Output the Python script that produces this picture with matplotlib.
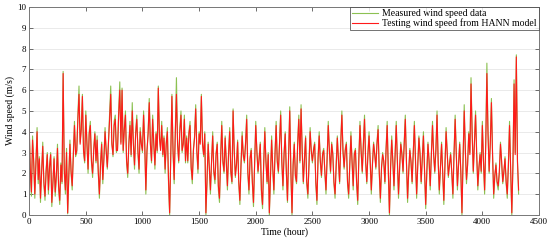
#wind speed: measured vs HANN test output
import matplotlib.pyplot as plt
import numpy as np

plt.rcParams['font.family'] = ['Liberation Serif', 'DejaVu Serif']

hours = np.arange(0, 4321, 10)

measured = [
    4.5, 2.0, 0.9, 3.8, 2.5, 0.8, 2.6, 4.2, 1.5, 2.8, 0.6, 2.0, 3.5, 1.4, 0.7, 2.2, 3.0, 1.0, 2.4, 3.0,
    0.4, 1.5, 2.8, 0.9, 1.8, 3.4, 1.2, 0.5, 2.5, 1.5, 6.9, 2.0, 1.0, 3.2, 0.05, 1.8, 3.6, 2.0, 1.2, 3.0,
    4.5, 2.8, 3.0, 4.8, 6.2, 3.5, 4.2, 5.8, 3.0, 2.5, 5.0, 3.5, 2.0, 4.0, 4.5, 2.5, 1.8, 3.2, 4.0, 2.5,
    3.8, 2.0, 0.8, 2.5, 3.5, 1.5, 2.8, 4.2, 3.0, 2.2, 3.5, 4.8, 6.2, 3.5, 2.8, 4.5, 4.8, 3.0, 3.2, 5.0,
    6.4, 3.5, 6.1, 3.0, 4.2, 5.0, 2.5, 1.8, 3.5, 4.5, 2.8, 5.4, 3.5, 2.2, 4.0, 4.8, 3.0, 2.0, 4.2, 3.5,
    3.0, 5.0, 3.5, 1.0, 3.0, 4.0, 5.6, 3.5, 2.5, 4.8, 3.5, 2.2, 4.0, 3.0, 6.2, 3.8, 3.2, 4.5, 2.8, 3.8,
    2.0, 3.5, 4.2, 1.5, 0.0, 2.8, 5.8, 3.0, 1.5, 4.0, 6.6, 3.5, 2.5, 4.2, 5.0, 3.0, 3.5, 4.8, 2.5, 3.8,
    2.5, 4.0, 4.5, 2.2, 1.5, 3.2, 3.8, 5.3, 3.0, 2.0, 4.0, 3.5, 5.8, 3.5, 2.8, 4.0, 0.0, 1.5, 3.5, 2.2,
    1.0, 2.5, 4.0, 2.0, 1.5, 3.0, 3.5, 1.2, 0.6, 2.8, 4.5, 2.5, 2.0, 3.8, 2.5, 1.2, 3.0, 4.2, 2.0, 1.5,
    5.1, 3.0, 1.8, 2.5, 3.6, 1.5, 0.5, 2.5, 4.0, 2.8, 2.5, 3.5, 4.8, 2.0, 1.0, 2.8, 3.2, 1.5, 0.4, 2.5,
    4.5, 3.0, 2.0, 2.8, 3.5, 1.0, 0.3, 2.5, 4.2, 2.5, 1.5, 3.0, 0.0, 1.8, 3.8, 2.2, 1.0, 3.0, 4.5, 2.5,
    2.0, 3.5, 5.0, 2.5, 1.2, 3.0, 4.0, 2.0, 0.6, 3.0, 5.2, 2.0, 0.0, 2.5, 3.5, 1.8, 1.5, 3.5, 4.8, 2.5,
    5.3, 3.0, 1.5, 2.8, 3.8, 1.5, 0.8, 2.5, 4.2, 3.0, 2.5, 3.2, 3.5, 1.5, 0.5, 2.8, 4.0, 2.5, 1.8, 3.0,
    3.2, 2.0, 1.0, 2.8, 4.5, 3.0, 2.0, 3.5, 3.0, 1.5, 0.8, 2.5, 3.8, 2.5, 1.5, 3.5, 5.0, 3.0, 2.2, 3.2,
    3.5, 1.5, 0.8, 2.5, 4.0, 2.5, 1.2, 3.0, 3.2, 1.5, 0.5, 2.8, 4.5, 3.0, 2.0, 3.5, 4.8, 2.5, 1.5, 3.0,
    4.0, 2.5, 1.0, 2.5, 3.5, 3.0, 2.2, 3.5, 4.3, 2.0, 0.6, 2.2, 3.0, 2.5, 1.5, 3.2, 4.5, 2.0, 0.0, 2.2,
    3.8, 2.5, 1.2, 3.0, 4.5, 2.5, 0.8, 2.2, 3.5, 3.0, 2.0, 3.5, 4.8, 2.5, 0.6, 2.0, 3.2, 2.5, 1.5, 3.0,
    4.5, 2.5, 0.8, 2.5, 3.8, 3.0, 1.5, 2.8, 4.0, 2.0, 0.3, 2.0, 3.5, 2.5, 1.2, 3.0, 4.5, 3.0, 2.0, 3.2,
    5.0, 2.5, 1.0, 2.2, 3.5, 2.0, 0.5, 2.5, 4.2, 3.0, 1.8, 2.5, 3.0, 2.0, 0.8, 3.0, 4.8, 3.0, 1.2, 2.5,
    3.5, 2.0, 0.0, 2.8, 5.3, 3.0, 1.5, 2.5, 4.0, 3.0, 6.6, 4.0, 2.0, 3.5, 5.0, 3.0, 1.2, 2.2, 3.0, 2.0,
    4.5, 2.5, 1.0, 3.5, 7.3, 4.0, 2.0, 3.5, 5.6, 3.0, 0.8, 1.8, 2.5, 1.5, 1.2, 2.0, 3.5, 2.5, 1.5, 2.0,
    2.8, 1.5, 0.8, 2.5, 4.5, 2.0, 0.0, 2.5, 6.5, 3.0, 7.7, 2.5, 1.0,
]

testing = [
    4.3, 2.2, 1.1, 3.6, 2.6, 1.0, 2.5, 4.0, 1.7, 2.7, 0.8, 2.1, 3.3, 1.6, 0.9, 2.1, 2.9, 1.2, 2.3, 2.9,
    0.6, 1.6, 2.7, 1.1, 1.9, 3.2, 1.4, 0.7, 2.4, 1.6, 6.8, 2.2, 1.2, 3.0, 0.1, 1.9, 3.4, 2.1, 1.4, 2.9,
    4.3, 2.9, 3.1, 4.6, 5.8, 3.4, 4.1, 5.7, 3.1, 2.6, 4.8, 3.4, 2.2, 3.9, 4.3, 2.6, 2.0, 3.1, 3.9, 2.6,
    3.6, 2.1, 1.0, 2.4, 3.4, 1.7, 2.7, 4.0, 3.1, 2.3, 3.4, 4.6, 5.8, 3.4, 2.9, 4.3, 4.6, 3.1, 3.1, 4.8,
    6.0, 3.4, 6.0, 3.1, 4.1, 4.8, 2.6, 2.0, 3.4, 4.3, 2.9, 5.0, 3.4, 2.4, 3.9, 4.6, 3.1, 2.2, 4.0, 3.4,
    3.1, 4.8, 3.4, 1.2, 3.1, 3.9, 5.4, 3.4, 2.6, 4.6, 3.4, 2.4, 3.9, 3.1, 6.1, 3.7, 3.1, 4.3, 2.9, 3.7,
    2.2, 3.4, 4.0, 1.7, 0.1, 2.9, 5.7, 3.1, 1.7, 3.9, 5.8, 3.4, 2.6, 4.0, 4.8, 3.1, 3.4, 4.6, 2.6, 3.7,
    2.6, 3.9, 4.3, 2.3, 1.7, 3.1, 3.7, 5.1, 3.1, 2.2, 3.9, 3.4, 5.7, 3.4, 2.9, 3.9, 0.1, 1.7, 3.4, 2.3,
    1.2, 2.6, 3.8, 2.1, 1.7, 2.9, 3.4, 1.4, 0.8, 2.7, 4.3, 2.6, 2.1, 3.7, 2.6, 1.4, 2.9, 4.0, 2.1, 1.6,
    5.0, 3.1, 1.9, 2.4, 3.5, 1.6, 0.7, 2.4, 3.8, 2.9, 2.6, 3.4, 4.6, 2.1, 1.2, 2.7, 3.1, 1.6, 0.6, 2.4,
    4.3, 3.1, 2.1, 2.7, 3.4, 1.2, 0.5, 2.4, 4.0, 2.6, 1.6, 2.9, 0.1, 1.9, 3.6, 2.3, 1.2, 2.9, 4.3, 2.6,
    2.1, 3.4, 4.8, 2.6, 1.4, 2.9, 3.9, 2.1, 0.7, 2.9, 5.0, 2.1, 0.1, 2.4, 3.4, 1.9, 1.6, 3.4, 4.6, 2.6,
    5.1, 3.1, 1.6, 2.7, 3.7, 1.6, 1.0, 2.4, 4.0, 3.1, 2.6, 3.1, 3.4, 1.6, 0.7, 2.7, 3.8, 2.6, 1.9, 2.9,
    3.1, 2.1, 1.2, 2.7, 4.3, 3.1, 2.1, 3.4, 2.9, 1.6, 1.0, 2.4, 3.7, 2.6, 1.6, 3.4, 4.8, 3.1, 2.3, 3.1,
    3.4, 1.6, 1.0, 2.4, 3.8, 2.6, 1.4, 2.9, 3.1, 1.6, 0.7, 2.7, 4.3, 3.1, 2.1, 3.4, 4.6, 2.6, 1.6, 2.9,
    3.8, 2.6, 1.2, 2.4, 3.4, 2.9, 2.3, 3.4, 4.1, 2.1, 0.8, 2.3, 2.9, 2.6, 1.6, 3.1, 4.3, 2.1, 0.1, 2.3,
    3.6, 2.6, 1.4, 2.9, 4.3, 2.6, 1.0, 2.3, 3.4, 2.9, 2.1, 3.4, 4.6, 2.6, 0.8, 2.1, 3.1, 2.6, 1.6, 2.9,
    4.3, 2.6, 1.0, 2.4, 3.7, 2.9, 1.6, 2.7, 3.8, 2.1, 0.5, 2.1, 3.4, 2.6, 1.4, 2.9, 4.3, 2.9, 2.1, 3.1,
    4.8, 2.6, 1.2, 2.3, 3.4, 2.1, 0.7, 2.4, 4.0, 2.9, 1.9, 2.4, 2.9, 2.1, 1.0, 2.9, 4.6, 2.9, 1.4, 2.4,
    3.4, 2.1, 0.1, 2.7, 5.0, 3.1, 1.7, 2.4, 3.9, 2.9, 6.3, 3.9, 2.1, 3.4, 4.8, 2.9, 1.4, 2.3, 2.9, 2.1,
    4.3, 2.6, 1.2, 3.4, 6.8, 3.9, 2.1, 3.4, 5.4, 2.9, 1.0, 1.9, 2.4, 1.6, 1.4, 2.1, 3.4, 2.6, 1.6, 2.1,
    2.7, 1.6, 1.0, 2.4, 4.3, 2.1, 0.1, 2.4, 6.3, 2.9, 7.6, 2.6, 1.2,
]

fig = plt.figure(figsize=(5.5, 2.42), dpi=100)
ax = fig.add_axes([0.053, 0.112, 0.927, 0.859])

ax.plot(hours, measured, color='#8cc152', linewidth=0.8, label='Measured wind speed data')
ax.plot(hours, testing, color='#ff1a1a', linewidth=0.8, label='Testing wind speed from HANN model')

ax.set_xlim(0, 4500)
ax.set_ylim(0, 10)
ax.set_xticks(range(0, 4501, 500))
ax.set_yticks(range(0, 11))
ax.yaxis.grid(True, color='#e6e6e6', linewidth=0.6)
ax.set_axisbelow(True)
ax.tick_params(direction='in', top=True, right=True, labelsize=6.5, length=3,
               color='#555555', width=0.6, pad=2)
for s in ax.spines.values():
    s.set_color('#777777')
    s.set_linewidth(0.7)

ax.set_xlabel('Time (hour)', fontsize=7, labelpad=1)
ax.set_ylabel('Wind speed (m/s)', fontsize=7, labelpad=2)

leg = ax.legend(loc='upper right', fontsize=7, borderaxespad=0, fancybox=False,
                handlelength=2.6, borderpad=0.2, labelspacing=0.05, handletextpad=0.5)
leg.get_frame().set_edgecolor('#333333')
leg.get_frame().set_linewidth(0.6)

plt.savefig('out.png', dpi=100)
